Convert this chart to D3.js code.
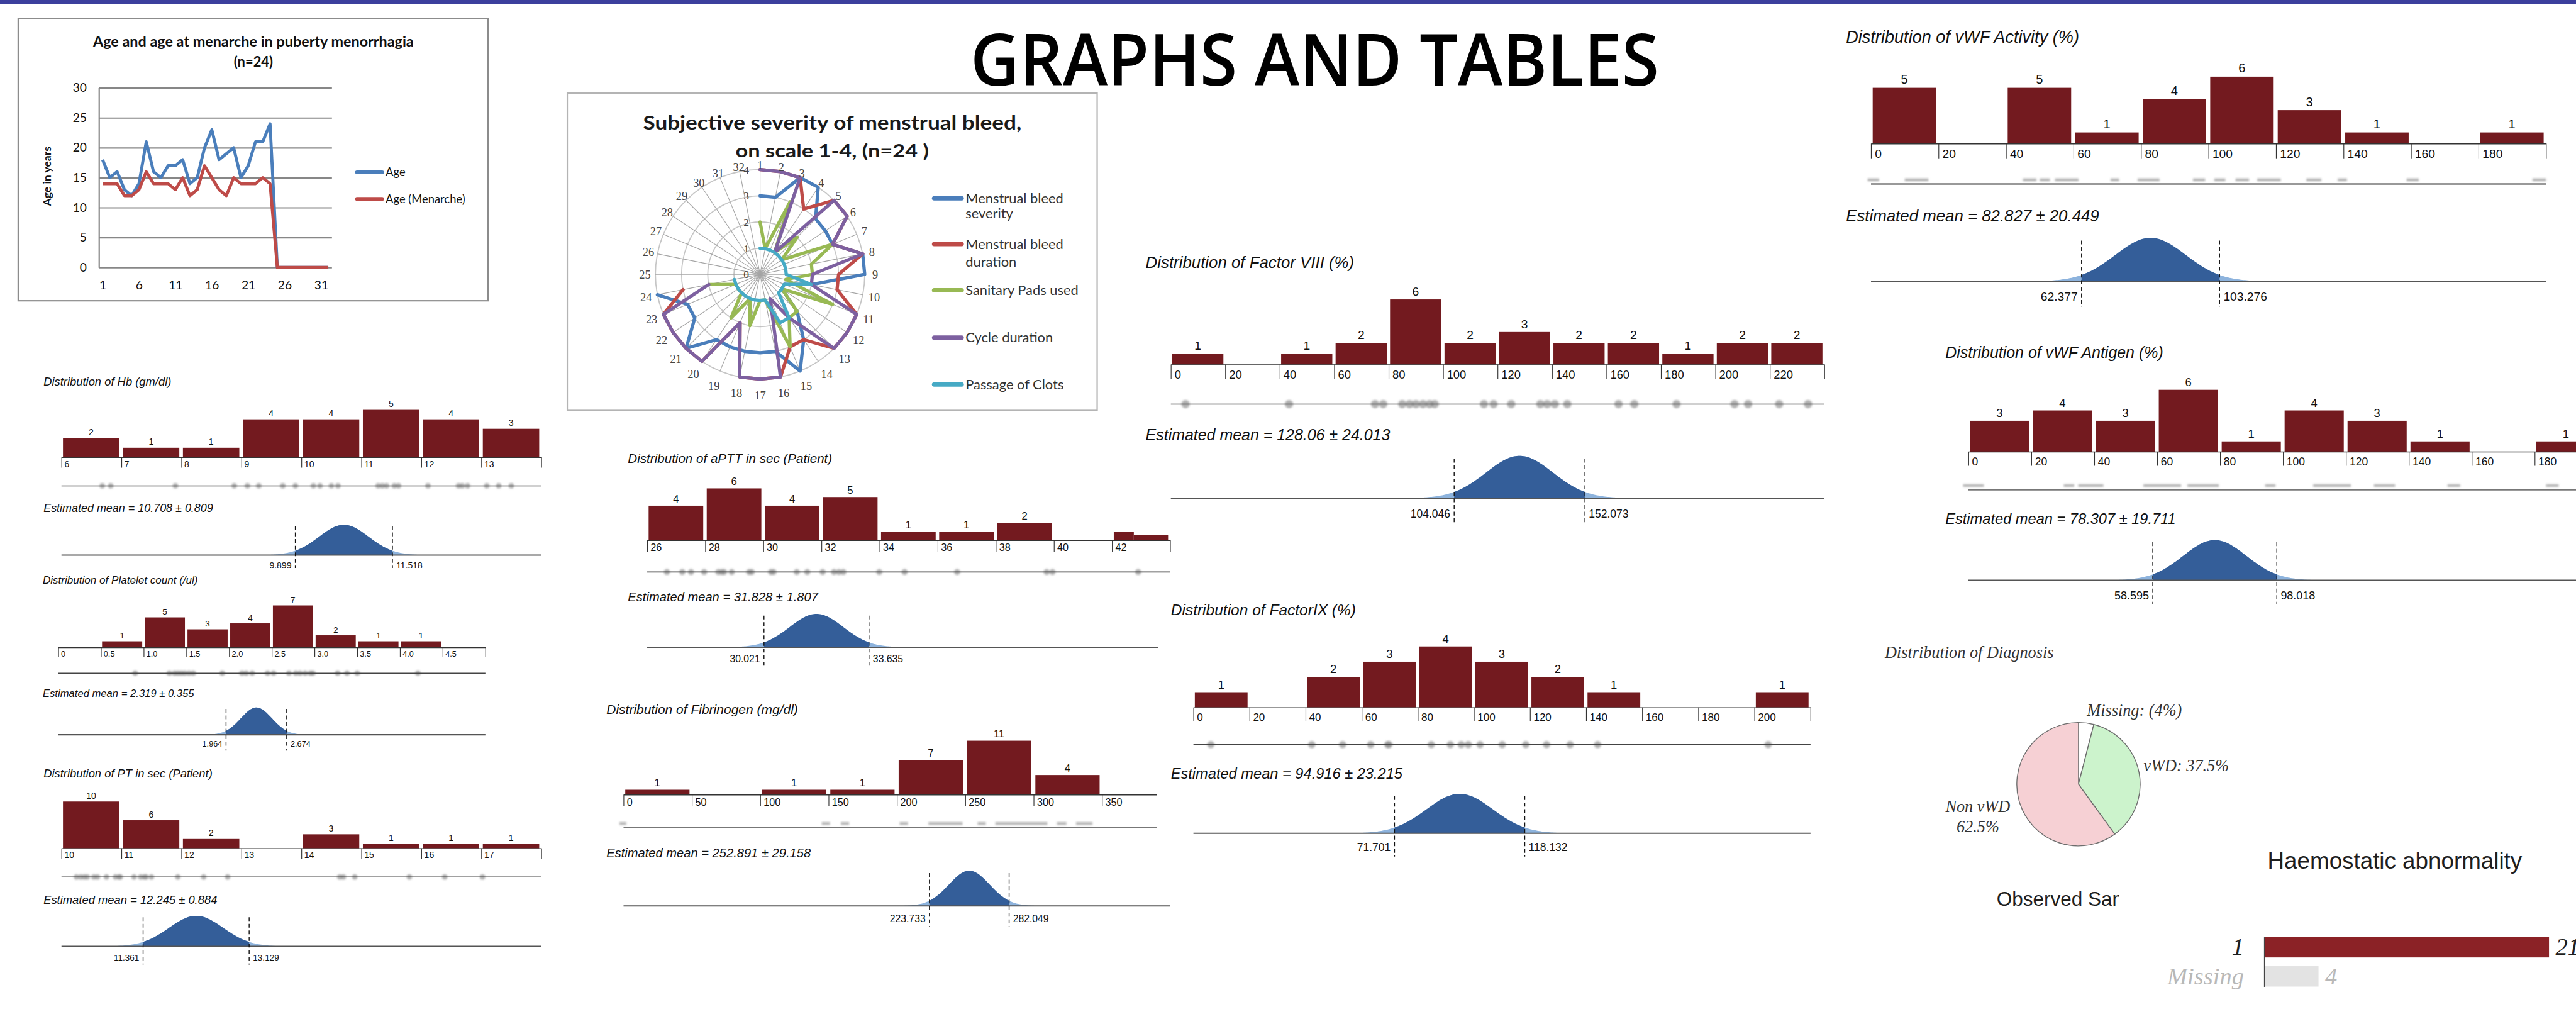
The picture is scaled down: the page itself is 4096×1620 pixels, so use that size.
<!DOCTYPE html>
<html>
<head>
<meta charset="utf-8">
<title>Graphs and tables</title>
<script src="https://cdn.jsdelivr.net/npm/d3@7/dist/d3.min.js"></script>
<style>
  html, body { margin: 0; padding: 0; background: #fff; overflow: hidden; }
  svg { display: block; }
  .sans { font-family: "Liberation Sans", Arial, Helvetica, sans-serif; }
  .lato { font-family: Lato, "Open Sans", sans-serif; }
  .serif { font-family: "Liberation Serif", "Times New Roman", serif; }
</style>
</head>
<body>
<svg id="poster" width="4096" height="1620"></svg>
<script>
// ================= data =================

// Age and age at menarche (line chart)
const ageCategories = d3.range(1, 33);
const ageValues      = [18,15,16,13,12,14,21,16,15,17,17,18,14,15,20,23,18,19,20,15,17,21,21,24,0,0,0,0,0,0,0,0];
const menarcheValues = [14,14,14,12,12,13,16,14,14,14,13,15,12,13,17,15,13,12,15,14,14,14,15,14,0,0,0,0,0,0,0,0];
const ageYTicks = [0,5,10,15,20,25,30];
const ageXTicks = [1,6,11,16,21,26,31];
const ageSeriesNames = ["Age", "Age (Menarche)"];

// Subjective severity (radar, scale 0-4, 32 spokes, 24 patients)
const radarCategories = d3.range(1, 33);
const radarTicks = [0,1,2,3,4];
const bleedSeverity = [3,3,4,4,3,3,3,4,4,2,1,1,2,3,4,3,3,3,3,3,4,3,3,4];
const bleedDuration = [4,4,4,3,4,4,3,4,3,3,4,4,4,3,3,4,4,4,2,4,4,4,4,3];
const padsUsed      = [2,1,3,1,2,1,3,2,2,1,3,1,2,2,3,1,1,2,1,2,1,1,1,2];
const cycleDuration = [4,4,4,1,4,4,3,4,2,2,4,4,4,2,1,4,4,4,2,4,4,4,4,2];
const clotPassage   = [1,1,1,1,1,1,1,1,1,2,1,1,1,2,2,1,1,1,1,1,1,1,1,1];
const radarLegend = [["Menstrual bleed","severity"],["Menstrual bleed","duration"],["Sanitary Pads used"],["Cycle duration"],["Passage of Clots"]];

// Hb
const hbEdges = [6,7,8,9,10,11,12,13,14];
const hbCounts = [2,1,1,4,4,5,4,3];
const hbTicks = ["6","7","8","9","10","11","12","13"];
const hbValues = [6.68,6.82,7.90,8.88,9.10,9.29,9.69,9.90,10.20,10.31,10.50,10.61,11.28,11.35,11.42,11.55,11.62,12.11,12.62,12.68,12.77,13.09,13.29,13.50];
const hbStats = [10.708, 0.809, 9.899, 11.518];

// Platelet count
const pltEdges = [0,0.5,1,1.5,2,2.5,3,3.5,4,4.5,5];
const pltCounts = [0,1,5,3,4,7,2,1,1,0];
const pltTicks = ["0","0.5","1.0","1.5","2.0","2.5","3.0","3.5","4.0","4.5"];
const pltValues = [0.90,1.30,1.36,1.40,1.44,1.48,1.53,1.58,1.92,2.15,2.20,2.27,2.45,2.52,2.70,2.78,2.83,2.89,2.95,2.98,3.27,3.38,3.50,4.21];
const pltStats = [2.319, 0.355, 1.964, 2.674];

// PT
const ptEdges = [10,11,12,13,14,15,16,17,18];
const ptCounts = [10,6,2,0,3,1,1,1];
const ptTicks = ["10","11","12","13","14","15","16","17"];
const ptValues = [10.25,10.32,10.38,10.43,10.54,10.60,10.75,10.90,10.96,10.98,11.21,11.32,11.38,11.41,11.50,11.94,12.37,12.77,14.64,14.70,14.89,15.80,16.39,17.02];
const ptStats = [12.245, 0.884, 11.361, 13.129];

// aPTT
const apttEdges = [26,28,30,32,34,36,38,40,42,44];
const apttCounts = [4,6,4,5,1,1,2,0,0];
const apttTicks = ["26","28","30","32","34","36","38","40","42"];
const apttTail = [[42.06,42.75,1],[42.75,43.93,0.6]];
const apttValues = [26.68,27.21,27.51,27.96,28.45,28.57,28.65,28.91,29.51,29.60,30.26,30.35,31.15,31.51,32.04,32.43,32.60,32.75,33.99,34.86,36.67,39.75,39.95,42.90];
const apttStats = [31.828, 1.807, 30.021, 33.635];

// Fibrinogen
const fibEdges = [0,50,100,150,200,250,300,350];
const fibCounts = [1,0,1,1,7,11,4];
const fibTicks = ["0","50","100","150","200","250","300","350"];
const fibMarks = [[-3,2],[145,151],[159,165],[202,208],[223,248],[259,265],[272,310],[317,324],[331,343]];
const fibStats = [252.891, 29.158, 223.733, 282.049];

// Factor VIII
const f8Edges = [0,20,40,60,80,100,120,140,160,180,200,220,240];
const f8Counts = [1,0,1,2,6,2,3,2,2,1,2,2];
const f8Ticks = ["0","20","40","60","80","100","120","140","160","180","200","220"];
const f8Values = [5.4,43.4,75,78,85,87.7,90,92.6,95,96.9,115,118.5,125,135.7,138.2,141,145.6,164.4,170.2,185.7,207,212,223.4,234];
const f8Stats = [128.06, 24.013, 104.046, 152.073];

// Factor IX
const f9Edges = [0,20,40,60,80,100,120,140,160,180,200,220];
const f9Counts = [1,0,2,3,4,3,2,1,0,0,1];
const f9Ticks = ["0","20","40","60","80","100","120","140","160","180","200"];
const f9Values = [6.2,42.2,53.2,63.2,69.3,69.7,84.8,91.6,95.5,98,102.2,110.1,118.5,125.9,134.3,144.1,204.9];
const f9Stats = [94.916, 23.215, 71.701, 118.132];

// vWF Activity
const vwfActEdges = [0,20,40,60,80,100,120,140,160,180,200];
const vwfActCounts = [5,0,5,1,4,6,3,1,0,1];
const vwfActTicks = ["0","20","40","60","80","100","120","140","160","180"];
const vwfActMarks = [[-1,2.4],[10,17],[45,49],[50,53],[54.5,61.5],[71,73.5],[79,85.5],[95.4,99],[101.7,105],[108,112],[114.4,121.4],[129,133.4],[138.3,141],[158.7,162.3],[196,200]];
const vwfActStats = [82.827, 20.449, 62.377, 103.276];

// vWF Antigen
const vwfAgEdges = [0,20,40,60,80,100,120,140,160,180,200];
const vwfAgCounts = [3,4,3,6,1,4,3,1,0,1];
const vwfAgTicks = ["0","20","40","60","80","100","120","140","160","180"];
const vwfAgMarks = [[-1.7,4.9],[30.3,33.6],[34.9,42.9],[55.6,67.6],[69.6,79.6],[94.3,97.6],[109.6,121.6],[128.9,135.6],[152.3,156.3],[183.6,187.6]];
const vwfAgStats = [78.307, 19.711, 58.595, 98.018];

// Diagnosis and haemostatic abnormality
const diagnosisCategories = ["Missing", "vWD", "Non vWD"];
const diagnosisCounts = [1, 9, 15];
const diagnosisLabels = [["Missing: (4%)"], ["vWD: 37.5%"], ["Non vWD", "62.5%"]];
const haemostaticCategories = ["1", "Missing"];
const haemostaticCounts = [21, 4];

// ================= drawing =================
const PAGE_W = 4677, PAGE_H = 1850;
const svg = d3.select("#poster");
const defs = svg.append("defs");
defs.append("clipPath").attr("id", "pageClip").append("rect").attr("width", PAGE_W).attr("height", PAGE_H);
defs.append("clipPath").attr("id", "hbCut").append("rect").attr("x", 0).attr("y", 0).attr("width", PAGE_W).attr("height", 1031);
defs.append("clipPath").attr("id", "obsCut").append("rect").attr("x", 3600).attr("y", 1590).attr("width", 248).attr("height", 80);
const soft = defs.append("filter").attr("id", "soft")
  .attr("x", "-10%").attr("y", "-300%").attr("width", "120%").attr("height", "700%");
soft.append("feGaussianBlur").attr("stdDeviation", 1.8);

const root = svg.append("g")
  .attr("transform", `scale(${4096 / PAGE_W})`)
  .attr("clip-path", "url(#pageClip)");

const BAR = "#731a1f";
const CURVE_DARK = "#345e99";
const CURVE_LIGHT = "#8db3dd";

// page band and heading
root.append("rect").attr("x", 0).attr("y", 0).attr("width", PAGE_W).attr("height", 7).attr("fill", "#3c3f9d");
root.append("text")
  .attr("x", 2387).attr("y", 155).attr("text-anchor", "middle")
  .attr("textLength", 1250).attr("lengthAdjust", "spacingAndGlyphs")
  .style("font-family", "'Open Sans', 'DejaVu Sans', sans-serif")
  .style("font-weight", 600).style("font-size", "130px").attr("fill", "#000")
  .text("GRAPHS AND TABLES");

// ---------- line chart: age and age at menarche ----------
(function drawAgeChart() {
  const g = root.append("g");
  g.append("rect").attr("x", 33).attr("y", 34).attr("width", 853).attr("height", 512)
    .attr("fill", "none").attr("stroke", "#8c8c8c").attr("stroke-width", 2.5);
  g.append("text").attr("class", "lato").attr("x", 460).attr("y", 84).attr("text-anchor", "middle")
    .attr("textLength", 582).attr("lengthAdjust", "spacingAndGlyphs")
    .style("font-size", "25px").style("font-weight", 700).attr("fill", "#111")
    .text("Age and age at menarche in puberty menorrhagia");
  g.append("text").attr("class", "lato").attr("x", 460).attr("y", 121).attr("text-anchor", "middle")
    .style("font-size", "25px").style("font-weight", 700).attr("fill", "#111").text("(n=24)");

  const x = d3.scalePoint().domain(ageCategories).range([179.6, 602.7]).padding(0.5);
  const y = d3.scaleLinear().domain([0, 30]).range([485.6, 159.5]);

  const yAx = g.append("g").attr("transform", "translate(179.6,0)")
    .call(d3.axisLeft(y).tickValues(ageYTicks).tickSize(-(602.7 - 179.6)).tickSizeOuter(0).tickPadding(22));
  yAx.select(".domain").attr("stroke", "#878787").attr("stroke-width", 2.5);
  yAx.selectAll(".tick line").attr("stroke", "#878787").attr("stroke-width", 2.5);
  yAx.selectAll(".tick text").attr("class", "lato").style("font-size", "22px").attr("fill", "#111");

  const xAx = g.append("g").attr("transform", "translate(0,485.6)")
    .call(d3.axisBottom(x).tickValues(ageXTicks).tickSize(0).tickSizeOuter(0));
  xAx.select(".domain").remove();
  xAx.selectAll(".tick text").attr("class", "lato").attr("y", 39.4).attr("dy", 0)
    .style("font-size", "22px").attr("fill", "#111");

  g.append("text").attr("class", "lato")
    .attr("transform", "translate(85,320) rotate(-90)").attr("text-anchor", "middle").attr("dy", "0.35em")
    .style("font-size", "20px").style("font-weight", 700).attr("fill", "#111").text("Age in years");

  const colors = ["#4a7ebb", "#be4b48"];
  const line = d3.line().x((d, i) => x(ageCategories[i])).y(d => y(d));
  [ageValues, menarcheValues].forEach((s, k) => {
    g.append("path").attr("d", line(s)).attr("fill", "none").attr("stroke", colors[k])
      .attr("stroke-width", 5.5).attr("stroke-linejoin", "round");
  });
  const legY = [312.7, 361];
  ageSeriesNames.forEach((name, k) => {
    g.append("line").attr("x1", 648).attr("x2", 694).attr("y1", legY[k]).attr("y2", legY[k])
      .attr("stroke", colors[k]).attr("stroke-width", 6.5).attr("stroke-linecap", "round");
    g.append("text").attr("class", "lato").attr("x", 700).attr("y", legY[k]).attr("dy", "0.35em")
      .style("font-size", "21px").attr("fill", "#111").text(name);
  });
})();

// ---------- radar chart: subjective severity ----------
(function drawRadar() {
  const g = root.append("g");
  g.append("rect").attr("x", 1030).attr("y", 169).attr("width", 962).attr("height", 576)
    .attr("fill", "#fff").attr("stroke", "#b4b4b4").attr("stroke-width", 2.5);
  const cx = 1380, cy = 498, R = 190;
  const r = d3.scaleLinear().domain([0, 4]).range([0, R]);
  const angle = d3.scaleLinear().domain([0, radarCategories.length]).range([0, 2 * Math.PI]);
  const c = g.append("g").attr("transform", `translate(${cx},${cy})`);

  c.append("g").selectAll("circle").data(radarTicks.slice(1)).join("circle")
    .attr("r", d => r(d)).attr("fill", "none").attr("stroke", "#c6c6c6").attr("stroke-width", 2);
  c.append("g").selectAll("line").data(radarCategories).join("line")
    .attr("x1", 0).attr("y1", 0)
    .attr("x2", (d, i) => r(4) * Math.sin(angle(i)))
    .attr("y2", (d, i) => -r(4) * Math.cos(angle(i)))
    .attr("stroke", "#a5a5a5").attr("stroke-width", 1.3);

  const series = [bleedSeverity, bleedDuration, padsUsed, cycleDuration, clotPassage];
  const colors = ["#4a7ebb", "#be4b48", "#98b954", "#7d60a0", "#46aac5"];
  const radial = d3.lineRadial().angle((d, i) => angle(i)).radius(d => r(d));
  series.forEach((s, k) => {
    c.append("path").attr("d", radial(s)).attr("fill", "none").attr("stroke", colors[k])
      .attr("stroke-width", 6).attr("stroke-linejoin", "round").attr("stroke-linecap", "round");
  });

  // category labels just outside the outer ring (closer at the top, further at the bottom)
  const labR = i => r(4) + 19 - 11 * Math.cos(angle(i));
  c.append("g").selectAll("text").data(radarCategories).join("text").attr("class", "serif")
    .attr("x", (d, i) => labR(i) * Math.sin(angle(i)))
    .attr("y", (d, i) => -labR(i) * Math.cos(angle(i)))
    .attr("text-anchor", "middle").attr("dy", "0.35em")
    .style("font-size", "21px").attr("fill", "#444").text(d => d);
  c.append("g").selectAll("text").data(radarTicks).join("text").attr("class", "serif")
    .attr("x", -20).attr("y", d => -r(d)).attr("text-anchor", "end").attr("dy", "0.35em")
    .style("font-size", "20px").attr("fill", "#444").text(d => d);

  g.append("text").attr("class", "lato").attr("x", 1511).attr("y", 235.6).attr("text-anchor", "middle")
    .attr("textLength", 687).attr("lengthAdjust", "spacingAndGlyphs")
    .style("font-size", "34px").style("font-weight", 700).attr("fill", "#1a1a1a")
    .text("Subjective severity of menstrual bleed,");
  g.append("text").attr("class", "lato").attr("x", 1511).attr("y", 285).attr("text-anchor", "middle")
    .attr("textLength", 351).attr("lengthAdjust", "spacingAndGlyphs")
    .style("font-size", "33px").style("font-weight", 700).attr("fill", "#1a1a1a")
    .text("on scale 1-4, (n=24 )");

  const legendRows = [[360, 388], [443, 475], [527], [613], [698]];
  radarLegend.forEach((lines, k) => {
    const ys = legendRows[k];
    g.append("line").attr("x1", 1696).attr("x2", 1746).attr("y1", ys[0]).attr("y2", ys[0])
      .attr("stroke", colors[k]).attr("stroke-width", 8).attr("stroke-linecap", "round");
    lines.forEach((t, j) => {
      g.append("text").attr("class", "lato").attr("x", 1753).attr("y", ys[j]).attr("dy", "0.35em")
        .style("font-size", "25px").attr("fill", "#333").text(t);
    });
  });
})();

// ---------- histogram panels with estimated-mean curves ----------
function drawHistogramPanel(spec, L) {
  const g = root.append("g");
  const x = d3.scaleLinear().domain([spec.edges[0], spec.domainEnd]).range([L.px0, L.px1]);
  const y = d3.scaleLinear().domain([0, 1]).range([L.baseY, L.baseY - L.perCount]);

  g.append("text").attr("class", "sans").attr("x", L.titleX).attr("y", L.titleY)
    .style("font-size", L.fsT + "px").style("font-style", "italic").attr("fill", "#111").text(spec.title);

  const bins = spec.counts.map((c, i) => ({ x0: spec.edges[i], x1: spec.edges[i + 1], c }))
    .filter(b => b.c > 0);
  const bw = b => x(b.x1) - x(b.x0);
  g.append("g").selectAll("rect").data(bins).join("rect")
    .attr("x", b => x(b.x0) + 0.025 * bw(b)).attr("width", b => 0.94 * bw(b))
    .attr("y", b => y(b.c)).attr("height", b => y(0) - y(b.c)).attr("fill", BAR);
  if (spec.tail) {
    g.append("g").selectAll("rect").data(spec.tail).join("rect")
      .attr("x", d => x(d[0])).attr("width", d => x(d[1]) - x(d[0]))
      .attr("y", d => y(d[2])).attr("height", d => y(0) - y(d[2])).attr("fill", BAR);
  }
  g.append("g").selectAll("text").data(bins).join("text").attr("class", "sans")
    .attr("x", b => x(b.x0) + 0.495 * bw(b)).attr("y", b => y(b.c) - 0.32 * L.fsC)
    .attr("text-anchor", "middle").style("font-size", L.fsC + "px").attr("fill", "#111").text(b => b.c);

  const axis = d3.axisBottom(x).tickValues(spec.edges).tickSize(L.tickLen).tickSizeOuter(0)
    .tickFormat((d, i) => spec.ticks[i] ?? "");
  const ax = g.append("g").attr("transform", `translate(0,${L.baseY})`).call(axis);
  ax.select(".domain").attr("stroke", "#333").attr("stroke-width", 1.6);
  ax.selectAll(".tick line").attr("stroke", "#333").attr("stroke-width", 1.3);
  ax.selectAll(".tick text").attr("class", "sans").attr("text-anchor", "start")
    .attr("x", L.fsTick * 0.3).attr("y", L.tickLen - 1).attr("dy", 0)
    .style("font-size", L.fsTick + "px").attr("fill", "#111");

  // individual observations strip
  const strip = g.append("g");
  if (spec.values) {
    strip.append("g").attr("filter", "url(#soft)").selectAll("circle").data(spec.values).join("circle")
      .attr("cx", v => x(v)).attr("cy", L.dotY).attr("r", L.dotR)
      .attr("fill", "#8f8f8f").attr("fill-opacity", 0.7);
    strip.append("line").attr("x1", L.px0).attr("x2", L.px1).attr("y1", L.dotY).attr("y2", L.dotY)
      .attr("stroke", "#444").attr("stroke-width", 1.8);
  } else {
    strip.append("g").attr("filter", "url(#soft)").selectAll("rect").data(spec.marks).join("rect")
      .attr("x", d => x(d[0])).attr("width", d => x(d[1]) - x(d[0]))
      .attr("y", L.dotY - 10).attr("height", 5).attr("fill", "#b5b5b5");
    strip.append("line").attr("x1", L.px0).attr("x2", L.px1).attr("y1", L.dotY).attr("y2", L.dotY)
      .attr("stroke", "#777").attr("stroke-width", 2.6);
  }

  const [mean, err, lo, hi] = spec.stats;
  g.append("text").attr("class", "sans").attr("x", L.titleX).attr("y", L.estY)
    .style("font-size", L.fsE + "px").style("font-style", "italic").attr("fill", "#111")
    .text(`Estimated mean = ${mean} ± ${err}`);

  // normal curve of the mean estimate, 95% interval shaded dark
  const sd = err / 1.959964;
  const dens = d3.scaleLinear().domain([0, 1]).range([L.curveY, L.curveY - L.peak]);
  const f = v => Math.exp(-0.5 * ((v - mean) / sd) ** 2);
  const pts = d3.range(-3.6, 3.6001, 0.04).map(z => mean + z * sd);
  const area = d3.area().x(v => x(v)).y0(L.curveY).y1(v => dens(f(v)));
  g.append("path").attr("d", area(pts)).attr("fill", CURVE_LIGHT);
  g.append("path").attr("d", area([lo, ...pts.filter(v => v > lo && v < hi), hi])).attr("fill", CURVE_DARK);
  const span = L.curveSpan || [L.px0, L.px1];
  g.append("line").attr("x1", span[0]).attr("x2", span[1]).attr("y1", L.curveY).attr("y2", L.curveY)
    .attr("stroke", "#555").attr("stroke-width", 2.4);
  const ci = g.append("g");
  if (L.clip) ci.attr("clip-path", `url(#${L.clip})`);
  [lo, hi].forEach((v, k) => {
    ci.append("line").attr("x1", x(v)).attr("x2", x(v))
      .attr("y1", L.curveY - L.dashUp).attr("y2", L.curveY + L.dashDown)
      .attr("stroke", "#111").attr("stroke-width", 1.6).attr("stroke-dasharray", "7,5");
    ci.append("text").attr("class", "sans")
      .attr("x", x(v) + (k === 0 ? -7 : 7)).attr("y", L.curveY + L.ciDy)
      .attr("text-anchor", k === 0 ? "end" : "start")
      .style("font-size", L.fsCI + "px").attr("fill", "#111").text(v);
  });
}

const histogramSpecs = [
  [{ title: "Distribution of Hb (gm/dl)", edges: hbEdges, domainEnd: 14, counts: hbCounts, ticks: hbTicks, values: hbValues, stats: hbStats },
   { px0: 111.6, px1: 982.8, baseY: 830, perCount: 17.2, tickLen: 19, titleX: 79, titleY: 700, estY: 930, dotY: 882, dotR: 5,
     curveY: 1007.7, peak: 55, dashUp: 53, dashDown: 24, ciDy: 25, fsT: 21, fsE: 20.5, fsC: 16, fsTick: 16, fsCI: 16, clip: "hbCut" }],
  [{ title: "Distribution of Platelet count (/ul)", edges: pltEdges, domainEnd: 5, counts: pltCounts, ticks: pltTicks, values: pltValues, stats: pltStats },
   { px0: 105.8, px1: 881.3, baseY: 1175, perCount: 10.85, tickLen: 17.7, titleX: 77.6, titleY: 1060, estY: 1265.5, dotY: 1222, dotR: 5,
     curveY: 1333.8, peak: 49.5, dashUp: 47, dashDown: 28.6, ciDy: 22, fsT: 19.5, fsE: 19, fsC: 15.5, fsTick: 14.5, fsCI: 14.5 }],
  [{ title: "Distribution of PT in sec (Patient)", edges: ptEdges, domainEnd: 18, counts: ptCounts, ticks: ptTicks, values: ptValues, stats: ptStats },
   { px0: 111.6, px1: 982.8, baseY: 1540, perCount: 8.5, tickLen: 18.8, titleX: 79, titleY: 1411.5, estY: 1641.4, dotY: 1592, dotR: 5,
     curveY: 1718, peak: 55.6, dashUp: 53, dashDown: 33, ciDy: 26, fsT: 21, fsE: 21, fsC: 16, fsTick: 16, fsCI: 15.5 }],
  [{ title: "Distribution of aPTT in sec (Patient)", edges: apttEdges, domainEnd: 44, counts: apttCounts, ticks: apttTicks, tail: apttTail, values: apttValues, stats: apttStats },
   { px0: 1175, px1: 2124.5, baseY: 980.8, perCount: 15.7, tickLen: 21, titleX: 1140, titleY: 840, estY: 1091.8, dotY: 1038.4, dotR: 5.5,
     curveY: 1175, peak: 60.5, dashUp: 57.5, dashDown: 35.5, ciDy: 27.7, fsT: 23.5, fsE: 23, fsC: 19, fsTick: 18.5, fsCI: 18, curveSpan: [1175, 2102.6] }],
  [{ title: "Distribution of Fibrinogen (mg/dl)", edges: fibEdges, domainEnd: 390, counts: fibCounts, ticks: fibTicks, marks: fibMarks, stats: fibStats },
   { px0: 1132.1, px1: 2100.1, baseY: 1442.5, perCount: 8.9, tickLen: 21, titleX: 1101, titleY: 1295.6, estY: 1556.4, dotY: 1502.4,
     curveY: 1644.5, peak: 64, dashUp: 59.5, dashDown: 37.5, ciDy: 30, fsT: 24, fsE: 23, fsC: 19, fsTick: 18.5, fsCI: 18, curveSpan: [1132.1, 2124.7] }],
  [{ title: "Distribution of Factor VIII (%)", edges: f8Edges, domainEnd: 240, counts: f8Counts, ticks: f8Ticks, values: f8Values, stats: f8Stats },
   { px0: 2125.8, px1: 3312.3, baseY: 661.8, perCount: 19.7, tickLen: 26.4, titleX: 2080, titleY: 486.4, estY: 799, dotY: 733.6, dotR: 7.5,
     curveY: 904.3, peak: 76.8, dashUp: 71.4, dashDown: 44.7, ciDy: 35.7, fsT: 29.5, fsE: 28.5, fsC: 22, fsTick: 21, fsCI: 20 }],
  [{ title: "Distribution of FactorIX (%)", edges: f9Edges, domainEnd: 220, counts: f9Counts, ticks: f9Ticks, values: f9Values, stats: f9Stats },
   { px0: 2166.8, px1: 3287.2, baseY: 1284.3, perCount: 27.7, tickLen: 25, titleX: 2125.8, titleY: 1116.7, estY: 1413.3, dotY: 1351.7, dotR: 6.5,
     curveY: 1512.7, peak: 71.7, dashUp: 67.7, dashDown: 42.3, ciDy: 32.3, fsT: 28, fsE: 27, fsC: 21, fsTick: 19.5, fsCI: 20 }],
  [{ title: "Distribution of vWF Activity (%)", edges: vwfActEdges, domainEnd: 200, counts: vwfActCounts, ticks: vwfActTicks, marks: vwfActMarks, stats: vwfActStats },
   { px0: 3397, px1: 4622.6, baseY: 260.7, perCount: 20.25, tickLen: 26.7, titleX: 3351.5, titleY: 77.4, estY: 401.5, dotY: 334,
     curveY: 510.7, peak: 78.9, dashUp: 74, dashDown: 46.3, ciDy: 35.3, fsT: 31, fsE: 29.5, fsC: 23, fsTick: 22, fsCI: 22 }],
  [{ title: "Distribution of vWF Antigen (%)", edges: vwfAgEdges, domainEnd: 200, counts: vwfAgCounts, ticks: vwfAgTicks, marks: vwfAgMarks, stats: vwfAgStats },
   { px0: 3573.9, px1: 4716.3, baseY: 820, perCount: 18.73, tickLen: 25.5, titleX: 3532, titleY: 650, estY: 951.7, dotY: 889,
     curveY: 1053.4, peak: 73, dashUp: 69, dashDown: 43.2, ciDy: 34.6, fsT: 28.5, fsE: 27, fsC: 21, fsTick: 20, fsCI: 20.5 }]
];
histogramSpecs.forEach(([spec, layout]) => drawHistogramPanel(spec, layout));

// ---------- diagnosis pie and haemostatic abnormality bars ----------
(function drawDiagnosis() {
  const g = root.append("g");
  g.append("text").attr("class", "serif").attr("x", 3422).attr("y", 1194)
    .style("font-size", "30px").style("font-style", "italic").attr("fill", "#333").text("Distribution of Diagnosis");

  const pie = d3.pie().sort(null).value(d => d);
  const arc = d3.arc().innerRadius(0).outerRadius(112);
  const fills = ["#ffffff", "#ccf3cc", "#f6d0d4"];
  g.append("g").attr("transform", "translate(3773.7,1423.6)")
    .selectAll("path").data(pie(diagnosisCounts)).join("path")
    .attr("d", arc).attr("fill", (d, i) => fills[i]).attr("stroke", "#6d6d6d").attr("stroke-width", 1.6);

  const labelPos = [[3789, [1300], "start"], [3892, [1400], "start"], [3591, [1474, 1511], "middle"]];
  diagnosisLabels.forEach((lines, k) => {
    const [lx, ys, anchor] = labelPos[k];
    lines.forEach((t, j) => {
      g.append("text").attr("class", "serif").attr("x", lx).attr("y", ys[j]).attr("text-anchor", anchor)
        .style("font-size", "30px").style("font-style", "italic").attr("fill", "#333").text(t);
    });
  });

  g.append("text").attr("class", "sans").attr("x", 4117).attr("y", 1577)
    .style("font-size", "42px").attr("fill", "#1e1e1e").text("Haemostatic abnormality");
  g.append("text").attr("class", "sans").attr("x", 3625).attr("y", 1644).attr("clip-path", "url(#obsCut)")
    .style("font-size", "36px").attr("fill", "#1e1e1e").text("Observed Sample");

  const xb = d3.scaleLinear().domain([0, 21]).range([4111, 4628]);
  const yb = d3.scaleBand().domain(haemostaticCategories).range([1701, 1791]).paddingInner(0.3).paddingOuter(0);
  const barFill = ["#8b2226", "#e3e3e3"];
  const txtFill = ["#1e1e1e", "#b8b8b8"];
  g.append("g").selectAll("rect").data(haemostaticCounts).join("rect")
    .attr("x", xb(0)).attr("y", (d, i) => yb(haemostaticCategories[i]))
    .attr("width", d => xb(d) - xb(0)).attr("height", yb.bandwidth())
    .attr("fill", (d, i) => barFill[i]);
  const ax = g.append("g").attr("transform", `translate(${xb(0)},0)`)
    .call(d3.axisLeft(yb).tickSize(0).tickPadding(37));
  ax.select(".domain").attr("stroke", "#444").attr("stroke-width", 2);
  ax.selectAll(".tick text").attr("class", "serif").attr("dy", "0.32em")
    .style("font-size", "44px").style("font-style", "italic")
    .attr("fill", (d, i) => txtFill[i]);
  g.append("g").selectAll("text").data(haemostaticCounts).join("text").attr("class", "serif")
    .attr("x", d => xb(d) + 12).attr("y", (d, i) => yb(haemostaticCategories[i]) + yb.bandwidth() / 2)
    .attr("dy", "0.32em").style("font-size", "44px").style("font-style", "italic")
    .attr("fill", (d, i) => txtFill[i]).text(d => d);
})();
</script>
</body>
</html>
